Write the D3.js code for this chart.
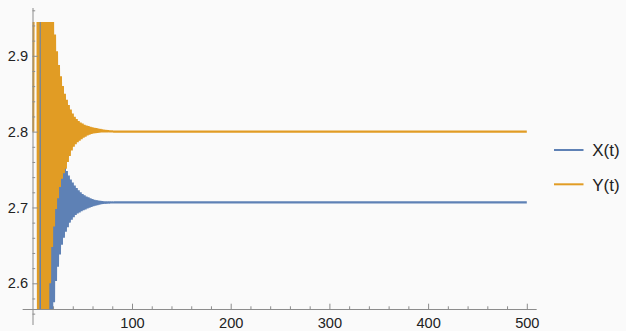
<!DOCTYPE html>
<html>
<head>
<meta charset="utf-8">
<script src="https://cdn.jsdelivr.net/npm/d3@7"></script>
<style>
  html, body { margin: 0; padding: 0; background: #fafafa; }
  svg { display: block; }
  text { font-family: "Liberation Sans", Arial, Helvetica, sans-serif; }
</style>
</head>
<body>
<svg id="chart" width="626" height="331"></svg>
<script>
// X(t), one value per step, t = 0, 1, 2, ...
const xSeries = [
  3.40, 3.60, 3.50, 3.45, 3.35, 3.20, 3.00, 2.00, 3.20, 2.10,
  3.15, 2.18, 3.10, 2.26, 3.05, 2.34, 3.00, 2.42, 2.95, 2.50,
  2.90, 2.575, 2.85, 2.603, 2.815, 2.622, 2.79, 2.638, 2.775, 2.651,
  2.764, 2.660, 2.755, 2.668, 2.748, 2.674, 2.742, 2.680, 2.737, 2.684,
  2.733, 2.687, 2.729, 2.690, 2.7255, 2.692, 2.7225, 2.6935, 2.72, 2.695,
  2.7178, 2.6963, 2.716, 2.6975, 2.7145, 2.6987, 2.7132, 2.6998, 2.712, 2.7008,
  2.711, 2.7017, 2.7101, 2.7025, 2.7094, 2.7033, 2.7088, 2.704, 2.7083, 2.7046,
  2.7079, 2.7051, 2.7076, 2.7055, 2.7073, 2.7059, 2.7071, 2.7062, 2.7069, 2.7064,
  2.7068, 2.7066, 2.7067, 2.7067, 2.7067, 2.7067, 2.7067, 2.7067, 2.7067, 2.7067
];

// Y(t), one value per step, t = 0, 1, 2, ...
const ySeries = [
  2.80, 3.40, 3.50, 3.45, 3.20, 2.30, 3.80, 3.70, 3.60, 2.40,
  3.25, 2.43, 3.18, 2.46, 3.10, 2.52, 3.03, 2.60, 2.98, 2.648,
  2.95, 2.675, 2.928, 2.698, 2.906, 2.712, 2.888, 2.727, 2.873, 2.738,
  2.860, 2.745, 2.850, 2.751, 2.842, 2.760, 2.835, 2.768, 2.829, 2.775,
  2.824, 2.780, 2.8195, 2.7835, 2.8165, 2.786, 2.814, 2.788, 2.812, 2.790,
  2.8105, 2.792, 2.809, 2.7935, 2.808, 2.795, 2.8072, 2.796, 2.8064, 2.797,
  2.8057, 2.7977, 2.805, 2.7982, 2.8044, 2.7986, 2.8038, 2.799, 2.8032, 2.7993,
  2.8026, 2.7995, 2.802, 2.7997, 2.8015, 2.7998, 2.8011, 2.7999, 2.8008, 2.80,
  2.8005, 2.80, 2.8003, 2.80, 2.8001, 2.80, 2.80, 2.80, 2.80, 2.80
];

// Both series sit at their fixed point from here to the last step
const lastStep = 500;
const xSteady = 2.7067;
const ySteady = 2.80;

const seriesNames = ["X(t)", "Y(t)"];

const xMajorTicks = [100, 200, 300, 400, 500];
const xMinorTicks = [20, 40, 60, 80, 120, 140, 160, 180, 220, 240, 260, 280,
                     320, 340, 360, 380, 420, 440, 460, 480];
const yMajorTicks = [2.6, 2.7, 2.8, 2.9];
const yMinorTicks = [2.56, 2.58, 2.62, 2.64, 2.66, 2.68, 2.72, 2.74, 2.76, 2.78,
                     2.82, 2.84, 2.86, 2.88, 2.92, 2.94, 2.96];

// ---- styling ----
const colors = ["#5e81b5", "#e19c24"];
const axisColor = "#8c8c8c";
const labelColor = "#222222";
const tickFont = 14.6;
const legendFont = 17;

const svg = d3.select("#chart");

const x = d3.scaleLinear().domain([0, 500]).range([33.3, 526.8]);
const y = d3.scaleLinear().domain([2.6, 2.9]).range([283.3, 55.8]);

// plotted window (data outside is clipped)
const viewLo = 2.5661, viewHi = 2.9446;
const axisY = 309.5;
const axisX = 33;

svg.append("defs").append("clipPath").attr("id", "plotClip")
  .append("rect")
  .attr("x", x(-10.8)).attr("y", y(viewHi))
  .attr("width", x(510) - x(-10.8))
  .attr("height", y(viewLo) - y(viewHi));

// ---- series ----
const toPoints = (vals, steady) =>
  vals.map((v, i) => [i, v]).concat([[lastStep, steady]]);

const series = [toPoints(xSeries, xSteady), toPoints(ySeries, ySteady)];

const line = d3.line().x(d => x(d[0])).y(d => y(d[1]));

const plot = svg.append("g").attr("clip-path", "url(#plotClip)");
plot.selectAll("path.series")
  .data(series)
  .join("path")
  .attr("class", "series")
  .attr("d", line)
  .attr("fill", "none")
  .attr("stroke", (d, i) => colors[i])
  .attr("stroke-width", 2.1)
  .attr("stroke-linejoin", "bevel");

// ---- axes ----
function styleAxis(g) {
  g.select(".domain").remove();
  g.selectAll(".tick line").attr("stroke", axisColor);
  g.selectAll(".tick text")
    .attr("fill", labelColor)
    .attr("font-size", tickFont)
    .attr("font-family", '"Liberation Sans", Arial, Helvetica, sans-serif');
}

const gx = svg.append("g").attr("transform", `translate(0,${axisY - 0.5})`);
gx.append("g")
  .call(d3.axisBottom(x).tickValues(xMinorTicks).tickSize(-2.7).tickFormat(""))
  .call(styleAxis);
gx.append("g")
  .call(d3.axisBottom(x).tickValues(xMajorTicks).tickSize(-5.3).tickPadding(8.4)
        .tickFormat(d3.format("d")))
  .call(styleAxis);

const gy = svg.append("g").attr("transform", `translate(${axisX - 0.5},0)`);
gy.append("g")
  .call(d3.axisLeft(y).tickValues(yMinorTicks).tickSize(-2.7).tickFormat(""))
  .call(styleAxis);
gy.append("g")
  .call(d3.axisLeft(y).tickValues(yMajorTicks).tickSize(-5.3).tickPadding(4.4)
        .tickFormat(d3.format(".1f")))
  .call(styleAxis);

// axis lines run a little past the plotted window
svg.append("line")
  .attr("x1", x(-10.8)).attr("x2", x(510))
  .attr("y1", axisY).attr("y2", axisY)
  .attr("stroke", axisColor).attr("stroke-width", 1);
svg.append("line")
  .attr("x1", axisX).attr("x2", axisX)
  .attr("y1", y(2.963)).attr("y2", y(2.545))
  .attr("stroke", axisColor).attr("stroke-width", 1);

// ---- legend ----
const legend = svg.append("g").attr("transform", "translate(554,150)");
const items = legend.selectAll("g.item")
  .data(seriesNames)
  .join("g")
  .attr("class", "item")
  .attr("transform", (d, i) => `translate(0,${i * 34.3})`);
items.append("line")
  .attr("x1", 0).attr("x2", 29.5)
  .attr("y1", 0).attr("y2", 0)
  .attr("stroke", (d, i) => colors[i])
  .attr("stroke-width", 2);
items.append("text")
  .attr("x", 38.2).attr("y", 6.4)
  .attr("font-size", legendFont)
  .attr("fill", labelColor)
  .text(d => d);
</script>
</body>
</html>
